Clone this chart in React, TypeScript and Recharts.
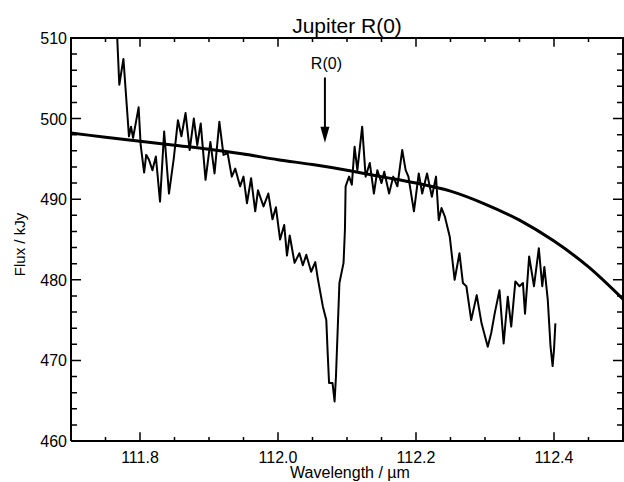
import { LineChart, Line, XAxis, YAxis, ReferenceLine } from 'recharts';

// continuum fit (smooth curve)
const fitWavelength = [111.70, 111.75, 111.80, 111.85, 111.90, 111.95, 112.00, 112.05, 112.10, 112.15, 112.20, 112.25, 112.30, 112.35, 112.40, 112.45, 112.50];
const fitFlux = [498.2, 497.7, 497.2, 496.7, 496.2, 495.6, 494.9, 494.3, 493.6, 492.8, 492.0, 491.0, 489.4, 487.4, 484.8, 481.6, 477.6];

// observed spectrum
const specWavelength = [
  111.767, 111.770, 111.776, 111.784, 111.787, 111.790, 111.798, 111.801, 111.806, 111.809,
  111.813, 111.818, 111.823, 111.829, 111.835, 111.842, 111.849, 111.855, 111.860, 111.866,
  111.872, 111.878, 111.883, 111.888, 111.895, 111.902, 111.908, 111.915, 111.921, 111.927,
  111.933, 111.938, 111.945, 111.950, 111.955, 111.961, 111.967, 111.971, 111.979, 111.986,
  111.992, 111.997, 112.003, 112.009, 112.013, 112.017, 112.024, 112.031, 112.036, 112.041,
  112.048, 112.054, 112.058, 112.065, 112.070, 112.072, 112.074, 112.079, 112.082, 112.084,
  112.089, 112.095, 112.097, 112.098, 112.103, 112.107, 112.111, 112.115, 112.122, 112.127,
  112.133, 112.139, 112.144, 112.150, 112.154, 112.161, 112.167, 112.173, 112.180, 112.185,
  112.189, 112.197, 112.204, 112.209, 112.216, 112.223, 112.229, 112.233, 112.237, 112.242,
  112.249, 112.256, 112.263, 112.268, 112.273, 112.280, 112.288, 112.295, 112.304, 112.309,
  112.314, 112.321, 112.327, 112.333, 112.338, 112.344, 112.350, 112.355, 112.358, 112.364,
  112.371, 112.378, 112.383, 112.386, 112.391, 112.395, 112.398, 112.400, 112.402,
];
const specFlux = [
  510.0, 504.2, 507.4, 497.8, 499.0, 497.6, 501.4, 496.7, 493.3, 495.5,
  494.9, 493.6, 495.3, 489.7, 498.4, 490.7, 495.1, 499.8, 497.8, 500.7,
  496.1, 500.0, 496.7, 499.4, 492.4, 497.1, 493.2, 499.6, 495.5, 495.7,
  492.8, 493.8, 491.6, 492.8, 489.5, 492.6, 488.5, 491.1, 489.1, 490.7,
  487.5, 489.0, 485.0, 486.8, 483.0, 485.5, 482.1, 483.3, 481.8, 483.1,
  481.0, 482.2, 480.0, 476.7, 475.0, 470.9, 467.2, 467.2, 464.9, 468.0,
  479.6, 482.1, 486.2, 491.6, 492.8, 491.8, 496.5, 493.6, 499.0, 492.8,
  494.5, 490.7, 493.6, 492.0, 493.4, 490.7, 492.8, 491.6, 496.1, 493.6,
  492.8, 488.5, 493.2, 490.7, 493.2, 490.3, 492.8, 487.4, 488.9, 487.8,
  485.3, 480.0, 483.3, 479.6, 479.2, 475.0, 478.1, 474.6, 471.7, 473.4,
  475.8, 478.7, 472.1, 477.9, 474.2, 479.8, 479.2, 479.6, 475.8, 482.9,
  479.2, 483.9, 479.2, 481.6, 477.5, 471.7, 469.3, 471.3, 474.6,
];

const xDomain = [111.7, 112.5];
const yDomain = [460, 510];
const xTicks = [111.70, 111.75, 111.80, 111.85, 111.90, 111.95, 112.00, 112.05, 112.10, 112.15, 112.20, 112.25, 112.30, 112.35, 112.40, 112.45, 112.50];
const xLabels = [111.8, 112.0, 112.2, 112.4];
const yTicks = [460, 462, 464, 466, 468, 470, 472, 474, 476, 478, 480, 482, 484, 486, 488, 490, 492, 494, 496, 498, 500, 502, 504, 506, 508, 510];
const yLabels = [460, 470, 480, 490, 500, 510];

// R(0) arrow annotation
const arrowWavelength = 112.068;
const arrowTop = 505.1;
const arrowTip = 497.0;
const arrowText = 'R(0)';

const isMajor = (list: number[], v: number) => list.some((t) => Math.abs(t - v) < 1e-6);

const spectrum = specWavelength.map((w, i) => ({ w, v: specFlux[i] }));
const fit = fitWavelength.map((w, i) => ({ w, v: fitFlux[i] }));

// plot box and inward tick marks (IDL style), built from the tick arrays;
// tick lengths in data units: ~9/4 px on the x ticks, ~10/6 px on the y ticks
const frame = [
  { w: xDomain[0], v: yDomain[0] },
  { w: xDomain[1], v: yDomain[0] },
  { w: xDomain[1], v: yDomain[1] },
  { w: xDomain[0], v: yDomain[1] },
  { w: xDomain[0], v: yDomain[0] },
];
const tickMarks: { w: number; v: number | null }[] = [];
xTicks.forEach((t) => {
  const len = isMajor(xLabels, t) ? 1.1 : 0.5;
  tickMarks.push({ w: t, v: yDomain[0] }, { w: t, v: yDomain[0] + len }, { w: t, v: null });
  tickMarks.push({ w: t, v: yDomain[1] }, { w: t, v: yDomain[1] - len }, { w: t, v: null });
});
yTicks.forEach((y) => {
  const len = isMajor(yLabels, y) ? 0.0145 : 0.0087;
  tickMarks.push({ w: xDomain[0], v: y }, { w: xDomain[0] + len, v: y }, { w: xDomain[0], v: null });
  tickMarks.push({ w: xDomain[1], v: y }, { w: xDomain[1] - len, v: y }, { w: xDomain[1], v: null });
});

const FONT = '"Liberation Sans", Arial, Helvetica, sans-serif';

const BottomLabel = (props: any) => {
  const { x, y, payload } = props;
  if (!isMajor(xLabels, payload.value)) return <g />;
  return (
    <text x={x} y={y + 22} textAnchor="middle" fontSize={16} fontFamily={FONT} fill="#000">
      {payload.value.toFixed(1)}
    </text>
  );
};

const LeftLabel = (props: any) => {
  const { x, y, payload } = props;
  if (!isMajor(yLabels, payload.value)) return <g />;
  return (
    <text x={x - 4} y={y + 6} textAnchor="end" fontSize={16} fontFamily={FONT} fill="#000">
      {payload.value}
    </text>
  );
};

const Arrow = (props: any) => {
  const { x1, y1, x2, y2 } = props;
  return (
    <g>
      <line x1={x1} y1={y1} x2={x2} y2={y2 - 12} stroke="#000" strokeWidth={2} />
      <polygon points={`${x2 - 4.5},${y2 - 16} ${x2 + 4.5},${y2 - 16} ${x2},${y2}`} fill="#000" />
      <text x={x1 + 1.5} y={y1 - 8} textAnchor="middle" fontSize={16} fontFamily={FONT} fill="#000">
        {arrowText}
      </text>
    </g>
  );
};

export default function App() {
  return (
    <div style={{ position: 'absolute', left: 0, top: 0, width: 624, height: 482, background: '#fff' }}>
      <LineChart width={624} height={482} margin={{ top: 37, right: 1, bottom: 40, left: 70 }}>
        <XAxis
          dataKey="w"
          type="number"
          domain={xDomain}
          ticks={xTicks}
          interval={0}
          height={1}
          tickSize={0}
          tickMargin={0}
          tickLine={false}
          axisLine={false}
          tick={BottomLabel}
          label={{
            content: (p: any) => (
              <text x={p.viewBox.x + p.viewBox.width / 2 + 3} y={p.viewBox.y + 37} textAnchor="middle" fontSize={16} fontFamily={FONT} fill="#000">
                Wavelength / µm
              </text>
            ),
          }}
        />
        <XAxis
          xAxisId="top"
          orientation="top"
          type="number"
          domain={xDomain}
          ticks={xTicks}
          height={1}
          tickSize={0}
          tickLine={false}
          axisLine={false}
          tick={() => <g />}
          label={{
            content: (p: any) => (
              <text x={p.viewBox.x + p.viewBox.width / 2} y={p.viewBox.y - 4} textAnchor="middle" fontSize={21} fontFamily={FONT} fill="#000">
                Jupiter R(0)
              </text>
            ),
          }}
        />
        <YAxis
          type="number"
          domain={yDomain}
          ticks={yTicks}
          interval={0}
          width={1}
          tickSize={0}
          tickMargin={0}
          tickLine={false}
          axisLine={false}
          tick={LeftLabel}
          label={{
            content: (p: any) => (
              <text
                x={19}
                y={p.viewBox.y + p.viewBox.height / 2 + 5}
                transform={`rotate(-90 19 ${p.viewBox.y + p.viewBox.height / 2 + 5})`}
                textAnchor="middle"
                dominantBaseline="central"
                fontSize={15}
                fontFamily={FONT}
                fill="#000"
              >
                Flux / kJy
              </text>
            ),
          }}
        />
        <Line
          data={tickMarks}
          dataKey="v"
          type="linear"
          stroke="#000"
          strokeWidth={1.5}
          dot={false}
          connectNulls={false}
          isAnimationActive={false}
        />
        <Line
          data={frame}
          dataKey="v"
          type="linear"
          stroke="#000"
          strokeWidth={2}
          strokeLinejoin="miter"
          dot={false}
          isAnimationActive={false}
        />
        <Line
          data={fit}
          dataKey="v"
          type="monotone"
          stroke="#000"
          strokeWidth={3}
          dot={false}
          isAnimationActive={false}
        />
        <Line
          data={spectrum}
          dataKey="v"
          type="linear"
          stroke="#000"
          strokeWidth={2}
          strokeLinejoin="round"
          dot={false}
          isAnimationActive={false}
        />
        <ReferenceLine
          segment={[
            { x: arrowWavelength, y: arrowTop },
            { x: arrowWavelength, y: arrowTip },
          ]}
          shape={Arrow}
        />
      </LineChart>
    </div>
  );
}
